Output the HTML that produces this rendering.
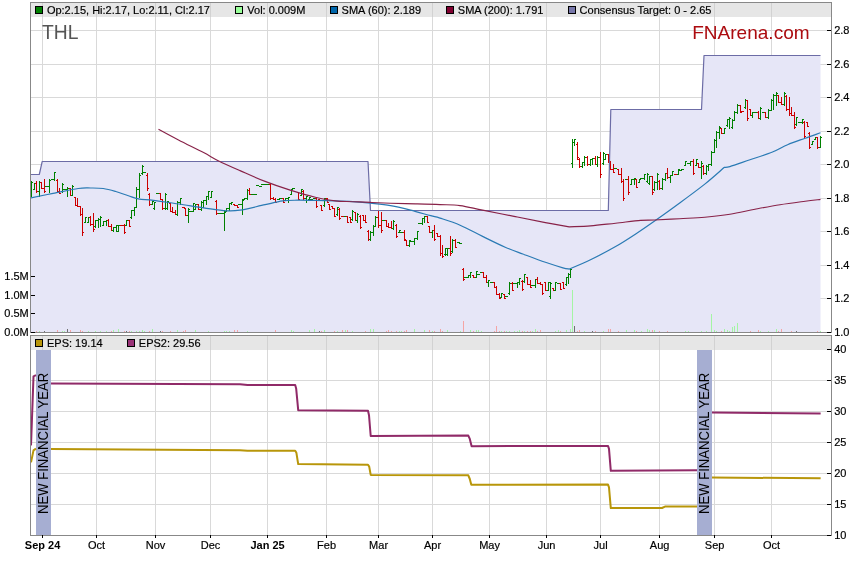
<!DOCTYPE html>
<html><head><meta charset="utf-8"><title>THL chart</title>
<style>html,body{margin:0;padding:0;background:#fff;}svg{display:block;}</style>
</head><body>
<svg width="859" height="566" viewBox="0 0 859 566" font-family="'Liberation Sans', Arial, sans-serif" font-size="11px">
<rect x="0" y="0" width="859" height="566" fill="#ffffff"/>
<g shape-rendering="crispEdges">
<rect x="42" y="3" width="1" height="329" fill="#d9d9d9"/>
<rect x="96" y="3" width="1" height="329" fill="#d9d9d9"/>
<rect x="155" y="3" width="1" height="329" fill="#d9d9d9"/>
<rect x="210" y="3" width="1" height="329" fill="#d9d9d9"/>
<rect x="267" y="3" width="1" height="329" fill="#d9d9d9"/>
<rect x="326" y="3" width="1" height="329" fill="#d9d9d9"/>
<rect x="378" y="3" width="1" height="329" fill="#d9d9d9"/>
<rect x="432" y="3" width="1" height="329" fill="#d9d9d9"/>
<rect x="489" y="3" width="1" height="329" fill="#d9d9d9"/>
<rect x="546" y="3" width="1" height="329" fill="#d9d9d9"/>
<rect x="600" y="3" width="1" height="329" fill="#d9d9d9"/>
<rect x="659" y="3" width="1" height="329" fill="#d9d9d9"/>
<rect x="714" y="3" width="1" height="329" fill="#d9d9d9"/>
<rect x="771" y="3" width="1" height="329" fill="#d9d9d9"/>
<rect x="31" y="298" width="800" height="1" fill="#d9d9d9"/>
<rect x="31" y="265" width="800" height="1" fill="#d9d9d9"/>
<rect x="31" y="231" width="800" height="1" fill="#d9d9d9"/>
<rect x="31" y="198" width="800" height="1" fill="#d9d9d9"/>
<rect x="31" y="164" width="800" height="1" fill="#d9d9d9"/>
<rect x="31" y="131" width="800" height="1" fill="#d9d9d9"/>
<rect x="31" y="97" width="800" height="1" fill="#d9d9d9"/>
<rect x="31" y="64" width="800" height="1" fill="#d9d9d9"/>
<rect x="31" y="30" width="800" height="1" fill="#d9d9d9"/>
<rect x="42" y="336" width="1" height="199" fill="#d9d9d9"/>
<rect x="96" y="336" width="1" height="199" fill="#d9d9d9"/>
<rect x="155" y="336" width="1" height="199" fill="#d9d9d9"/>
<rect x="210" y="336" width="1" height="199" fill="#d9d9d9"/>
<rect x="267" y="336" width="1" height="199" fill="#d9d9d9"/>
<rect x="326" y="336" width="1" height="199" fill="#d9d9d9"/>
<rect x="378" y="336" width="1" height="199" fill="#d9d9d9"/>
<rect x="432" y="336" width="1" height="199" fill="#d9d9d9"/>
<rect x="489" y="336" width="1" height="199" fill="#d9d9d9"/>
<rect x="546" y="336" width="1" height="199" fill="#d9d9d9"/>
<rect x="600" y="336" width="1" height="199" fill="#d9d9d9"/>
<rect x="659" y="336" width="1" height="199" fill="#d9d9d9"/>
<rect x="714" y="336" width="1" height="199" fill="#d9d9d9"/>
<rect x="771" y="336" width="1" height="199" fill="#d9d9d9"/>
<rect x="31" y="504" width="800" height="1" fill="#d9d9d9"/>
<rect x="31" y="473" width="800" height="1" fill="#d9d9d9"/>
<rect x="31" y="442" width="800" height="1" fill="#d9d9d9"/>
<rect x="31" y="411" width="800" height="1" fill="#d9d9d9"/>
<rect x="31" y="380" width="800" height="1" fill="#d9d9d9"/>
</g>
<polygon points="31,174.5 39.3,174.5 42.2,161.5 368,161.5 370.5,210.5 608.3,210.5 610.8,109.5 701.5,109.5 704,55.5 820.5,55.5 820.5,332 31,332" fill="#e6e6f7"/>
<g shape-rendering="crispEdges">
<rect x="36" y="331" width="1" height="1" fill="#f5a4a4"/>
<rect x="39" y="331" width="1" height="1" fill="#a4f5a4"/>
<rect x="44" y="331" width="1" height="1" fill="#707070"/>
<rect x="57" y="330" width="1" height="2" fill="#f5a4a4"/>
<rect x="62" y="331" width="1" height="1" fill="#a4f5a4"/>
<rect x="64" y="331" width="1" height="1" fill="#a4f5a4"/>
<rect x="67" y="329" width="1" height="3" fill="#707070"/>
<rect x="70" y="330" width="1" height="2" fill="#f5a4a4"/>
<rect x="80" y="330" width="1" height="2" fill="#f5a4a4"/>
<rect x="82" y="331" width="1" height="1" fill="#f5a4a4"/>
<rect x="88" y="331" width="1" height="1" fill="#a4f5a4"/>
<rect x="95" y="331" width="1" height="1" fill="#a4f5a4"/>
<rect x="100" y="331" width="1" height="1" fill="#a4f5a4"/>
<rect x="106" y="331" width="1" height="1" fill="#a4f5a4"/>
<rect x="111" y="331" width="1" height="1" fill="#f5a4a4"/>
<rect x="113" y="330" width="1" height="2" fill="#a4f5a4"/>
<rect x="118" y="329" width="1" height="3" fill="#a4f5a4"/>
<rect x="124" y="331" width="1" height="1" fill="#f5a4a4"/>
<rect x="126" y="331" width="1" height="1" fill="#707070"/>
<rect x="129" y="331" width="1" height="1" fill="#f5a4a4"/>
<rect x="131" y="331" width="1" height="1" fill="#a4f5a4"/>
<rect x="136" y="331" width="1" height="1" fill="#a4f5a4"/>
<rect x="139" y="331" width="1" height="1" fill="#a4f5a4"/>
<rect x="142" y="330" width="1" height="2" fill="#a4f5a4"/>
<rect x="144" y="331" width="1" height="1" fill="#a4f5a4"/>
<rect x="149" y="331" width="1" height="1" fill="#f5a4a4"/>
<rect x="152" y="329" width="1" height="3" fill="#a4f5a4"/>
<rect x="160" y="331" width="1" height="1" fill="#707070"/>
<rect x="162" y="331" width="1" height="1" fill="#f5a4a4"/>
<rect x="170" y="331" width="1" height="1" fill="#f5a4a4"/>
<rect x="177" y="330" width="1" height="2" fill="#a4f5a4"/>
<rect x="183" y="331" width="1" height="1" fill="#f5a4a4"/>
<rect x="185" y="330" width="1" height="2" fill="#f5a4a4"/>
<rect x="195" y="330" width="1" height="2" fill="#a4f5a4"/>
<rect x="208" y="331" width="1" height="1" fill="#a4f5a4"/>
<rect x="224" y="331" width="1" height="1" fill="#a4f5a4"/>
<rect x="226" y="331" width="1" height="1" fill="#a4f5a4"/>
<rect x="229" y="331" width="1" height="1" fill="#a4f5a4"/>
<rect x="234" y="330" width="1" height="2" fill="#f5a4a4"/>
<rect x="237" y="330" width="1" height="2" fill="#f5a4a4"/>
<rect x="247" y="331" width="1" height="1" fill="#a4f5a4"/>
<rect x="275" y="330" width="1" height="2" fill="#f5a4a4"/>
<rect x="291" y="330" width="1" height="2" fill="#a4f5a4"/>
<rect x="293" y="331" width="1" height="1" fill="#a4f5a4"/>
<rect x="309" y="330" width="1" height="2" fill="#a4f5a4"/>
<rect x="314" y="329" width="1" height="3" fill="#a4f5a4"/>
<rect x="319" y="331" width="1" height="1" fill="#707070"/>
<rect x="321" y="331" width="1" height="1" fill="#f5a4a4"/>
<rect x="324" y="330" width="1" height="2" fill="#a4f5a4"/>
<rect x="334" y="331" width="1" height="1" fill="#f5a4a4"/>
<rect x="337" y="331" width="1" height="1" fill="#a4f5a4"/>
<rect x="342" y="330" width="1" height="2" fill="#f5a4a4"/>
<rect x="345" y="330" width="1" height="2" fill="#a4f5a4"/>
<rect x="347" y="330" width="1" height="2" fill="#f5a4a4"/>
<rect x="352" y="331" width="1" height="1" fill="#a4f5a4"/>
<rect x="365" y="331" width="1" height="1" fill="#f5a4a4"/>
<rect x="370" y="329" width="1" height="3" fill="#a4f5a4"/>
<rect x="373" y="329" width="1" height="3" fill="#a4f5a4"/>
<rect x="386" y="331" width="1" height="1" fill="#f5a4a4"/>
<rect x="388" y="330" width="1" height="2" fill="#f5a4a4"/>
<rect x="391" y="331" width="1" height="1" fill="#f5a4a4"/>
<rect x="396" y="331" width="1" height="1" fill="#f5a4a4"/>
<rect x="399" y="331" width="1" height="1" fill="#a4f5a4"/>
<rect x="401" y="331" width="1" height="1" fill="#a4f5a4"/>
<rect x="404" y="331" width="1" height="1" fill="#f5a4a4"/>
<rect x="406" y="330" width="1" height="2" fill="#f5a4a4"/>
<rect x="414" y="329" width="1" height="3" fill="#a4f5a4"/>
<rect x="424" y="330" width="1" height="2" fill="#a4f5a4"/>
<rect x="429" y="330" width="1" height="2" fill="#f5a4a4"/>
<rect x="432" y="331" width="1" height="1" fill="#a4f5a4"/>
<rect x="434" y="331" width="1" height="1" fill="#f5a4a4"/>
<rect x="440" y="329" width="1" height="3" fill="#f5a4a4"/>
<rect x="442" y="331" width="1" height="1" fill="#f5a4a4"/>
<rect x="447" y="330" width="1" height="2" fill="#a4f5a4"/>
<rect x="460" y="331" width="1" height="1" fill="#a4f5a4"/>
<rect x="463" y="321" width="1" height="11" fill="#f5a4a4"/>
<rect x="470" y="330" width="1" height="2" fill="#a4f5a4"/>
<rect x="473" y="331" width="1" height="1" fill="#f5a4a4"/>
<rect x="476" y="330" width="1" height="2" fill="#a4f5a4"/>
<rect x="478" y="330" width="1" height="2" fill="#a4f5a4"/>
<rect x="481" y="331" width="1" height="1" fill="#a4f5a4"/>
<rect x="494" y="331" width="1" height="1" fill="#f5a4a4"/>
<rect x="496" y="326" width="1" height="6" fill="#f5a4a4"/>
<rect x="499" y="331" width="1" height="1" fill="#f5a4a4"/>
<rect x="501" y="331" width="1" height="1" fill="#a4f5a4"/>
<rect x="504" y="331" width="1" height="1" fill="#f5a4a4"/>
<rect x="506" y="331" width="1" height="1" fill="#a4f5a4"/>
<rect x="509" y="331" width="1" height="1" fill="#a4f5a4"/>
<rect x="514" y="331" width="1" height="1" fill="#a4f5a4"/>
<rect x="517" y="331" width="1" height="1" fill="#a4f5a4"/>
<rect x="519" y="330" width="1" height="2" fill="#a4f5a4"/>
<rect x="522" y="331" width="1" height="1" fill="#f5a4a4"/>
<rect x="524" y="331" width="1" height="1" fill="#a4f5a4"/>
<rect x="527" y="331" width="1" height="1" fill="#f5a4a4"/>
<rect x="530" y="331" width="1" height="1" fill="#f5a4a4"/>
<rect x="532" y="331" width="1" height="1" fill="#a4f5a4"/>
<rect x="535" y="329" width="1" height="3" fill="#a4f5a4"/>
<rect x="537" y="331" width="1" height="1" fill="#f5a4a4"/>
<rect x="540" y="330" width="1" height="2" fill="#f5a4a4"/>
<rect x="555" y="331" width="1" height="1" fill="#a4f5a4"/>
<rect x="558" y="330" width="1" height="2" fill="#a4f5a4"/>
<rect x="560" y="331" width="1" height="1" fill="#f5a4a4"/>
<rect x="566" y="330" width="1" height="2" fill="#a4f5a4"/>
<rect x="570" y="329" width="1" height="3" fill="#a4f5a4"/>
<rect x="572" y="290" width="1" height="42" fill="#a4f5a4"/>
<rect x="574" y="326" width="1" height="6" fill="#707070"/>
<rect x="577" y="331" width="1" height="1" fill="#f5a4a4"/>
<rect x="579" y="330" width="1" height="2" fill="#f5a4a4"/>
<rect x="584" y="331" width="1" height="1" fill="#a4f5a4"/>
<rect x="592" y="331" width="1" height="1" fill="#707070"/>
<rect x="595" y="331" width="1" height="1" fill="#f5a4a4"/>
<rect x="603" y="331" width="1" height="1" fill="#a4f5a4"/>
<rect x="608" y="329" width="1" height="3" fill="#f5a4a4"/>
<rect x="610" y="329" width="1" height="3" fill="#f5a4a4"/>
<rect x="618" y="331" width="1" height="1" fill="#f5a4a4"/>
<rect x="626" y="330" width="1" height="2" fill="#a4f5a4"/>
<rect x="634" y="330" width="1" height="2" fill="#a4f5a4"/>
<rect x="636" y="331" width="1" height="1" fill="#f5a4a4"/>
<rect x="641" y="331" width="1" height="1" fill="#a4f5a4"/>
<rect x="647" y="329" width="1" height="3" fill="#a4f5a4"/>
<rect x="649" y="330" width="1" height="2" fill="#a4f5a4"/>
<rect x="652" y="330" width="1" height="2" fill="#f5a4a4"/>
<rect x="654" y="330" width="1" height="2" fill="#a4f5a4"/>
<rect x="659" y="331" width="1" height="1" fill="#f5a4a4"/>
<rect x="667" y="331" width="1" height="1" fill="#f5a4a4"/>
<rect x="685" y="331" width="1" height="1" fill="#a4f5a4"/>
<rect x="688" y="331" width="1" height="1" fill="#a4f5a4"/>
<rect x="701" y="331" width="1" height="1" fill="#a4f5a4"/>
<rect x="706" y="331" width="1" height="1" fill="#a4f5a4"/>
<rect x="711" y="314" width="1" height="18" fill="#a4f5a4"/>
<rect x="714" y="330" width="1" height="2" fill="#a4f5a4"/>
<rect x="716" y="331" width="1" height="1" fill="#a4f5a4"/>
<rect x="721" y="331" width="1" height="1" fill="#f5a4a4"/>
<rect x="724" y="329" width="1" height="3" fill="#a4f5a4"/>
<rect x="727" y="330" width="1" height="2" fill="#a4f5a4"/>
<rect x="729" y="331" width="1" height="1" fill="#a4f5a4"/>
<rect x="732" y="327" width="1" height="5" fill="#a4f5a4"/>
<rect x="734" y="326" width="1" height="6" fill="#a4f5a4"/>
<rect x="737" y="323" width="1" height="9" fill="#a4f5a4"/>
<rect x="750" y="331" width="1" height="1" fill="#f5a4a4"/>
<rect x="758" y="330" width="1" height="2" fill="#f5a4a4"/>
<rect x="760" y="331" width="1" height="1" fill="#a4f5a4"/>
<rect x="768" y="331" width="1" height="1" fill="#a4f5a4"/>
<rect x="776" y="329" width="1" height="3" fill="#a4f5a4"/>
<rect x="778" y="331" width="1" height="1" fill="#f5a4a4"/>
<rect x="781" y="329" width="1" height="3" fill="#f5a4a4"/>
<rect x="791" y="331" width="1" height="1" fill="#f5a4a4"/>
<rect x="796" y="331" width="1" height="1" fill="#707070"/>
<rect x="817" y="331" width="1" height="1" fill="#f5a4a4"/>
<rect x="820" y="331" width="1" height="1" fill="#a4f5a4"/>
</g>
<g shape-rendering="crispEdges">
<rect x="31" y="181" width="1" height="16" fill="#008000"/>
<rect x="30" y="194" width="1" height="1" fill="#008000"/>
<rect x="32" y="182" width="1" height="1" fill="#008000"/>
<rect x="34" y="183" width="1" height="7" fill="#008000"/>
<rect x="33" y="189" width="1" height="1" fill="#008000"/>
<rect x="35" y="183" width="1" height="1" fill="#008000"/>
<rect x="36" y="181" width="1" height="12" fill="#cc0000"/>
<rect x="35" y="183" width="1" height="1" fill="#cc0000"/>
<rect x="37" y="191" width="1" height="1" fill="#cc0000"/>
<rect x="39" y="181" width="1" height="16" fill="#008000"/>
<rect x="38" y="191" width="1" height="1" fill="#008000"/>
<rect x="40" y="182" width="1" height="1" fill="#008000"/>
<rect x="41" y="182" width="1" height="7" fill="#cc0000"/>
<rect x="40" y="182" width="1" height="1" fill="#cc0000"/>
<rect x="42" y="188" width="1" height="1" fill="#cc0000"/>
<rect x="44" y="179" width="1" height="14" fill="#cc0000"/>
<rect x="43" y="188" width="1" height="1" fill="#cc0000"/>
<rect x="45" y="191" width="1" height="1" fill="#cc0000"/>
<rect x="45" y="186" width="3" height="1" fill="#008000"/>
<rect x="49" y="179" width="1" height="14" fill="#008000"/>
<rect x="48" y="186" width="1" height="1" fill="#008000"/>
<rect x="50" y="180" width="1" height="1" fill="#008000"/>
<rect x="51" y="179" width="3" height="1" fill="#008000"/>
<rect x="54" y="172" width="1" height="9" fill="#008000"/>
<rect x="53" y="179" width="1" height="1" fill="#008000"/>
<rect x="55" y="172" width="1" height="1" fill="#008000"/>
<rect x="57" y="179" width="1" height="14" fill="#cc0000"/>
<rect x="56" y="180" width="1" height="1" fill="#cc0000"/>
<rect x="58" y="191" width="1" height="1" fill="#cc0000"/>
<rect x="59" y="188" width="1" height="6" fill="#cc0000"/>
<rect x="58" y="191" width="1" height="1" fill="#cc0000"/>
<rect x="60" y="193" width="1" height="1" fill="#cc0000"/>
<rect x="62" y="183" width="1" height="10" fill="#008000"/>
<rect x="61" y="191" width="1" height="1" fill="#008000"/>
<rect x="63" y="184" width="1" height="1" fill="#008000"/>
<rect x="63" y="189" width="3" height="1" fill="#008000"/>
<rect x="67" y="187" width="1" height="10" fill="#008000"/>
<rect x="66" y="189" width="1" height="1" fill="#008000"/>
<rect x="68" y="188" width="1" height="1" fill="#008000"/>
<rect x="70" y="188" width="1" height="8" fill="#cc0000"/>
<rect x="69" y="188" width="1" height="1" fill="#cc0000"/>
<rect x="71" y="195" width="1" height="1" fill="#cc0000"/>
<rect x="72" y="185" width="1" height="11" fill="#008000"/>
<rect x="71" y="195" width="1" height="1" fill="#008000"/>
<rect x="73" y="186" width="1" height="1" fill="#008000"/>
<rect x="75" y="197" width="1" height="9" fill="#cc0000"/>
<rect x="74" y="197" width="1" height="1" fill="#cc0000"/>
<rect x="76" y="205" width="1" height="1" fill="#cc0000"/>
<rect x="77" y="198" width="1" height="9" fill="#cc0000"/>
<rect x="76" y="205" width="1" height="1" fill="#cc0000"/>
<rect x="78" y="206" width="1" height="1" fill="#cc0000"/>
<rect x="80" y="206" width="1" height="10" fill="#cc0000"/>
<rect x="79" y="206" width="1" height="1" fill="#cc0000"/>
<rect x="81" y="214" width="1" height="1" fill="#cc0000"/>
<rect x="82" y="208" width="1" height="28" fill="#cc0000"/>
<rect x="81" y="214" width="1" height="1" fill="#cc0000"/>
<rect x="83" y="232" width="1" height="1" fill="#cc0000"/>
<rect x="85" y="217" width="1" height="6" fill="#008000"/>
<rect x="84" y="222" width="1" height="1" fill="#008000"/>
<rect x="86" y="217" width="1" height="1" fill="#008000"/>
<rect x="88" y="217" width="1" height="6" fill="#008000"/>
<rect x="87" y="222" width="1" height="1" fill="#008000"/>
<rect x="89" y="217" width="1" height="1" fill="#008000"/>
<rect x="90" y="216" width="1" height="10" fill="#cc0000"/>
<rect x="89" y="217" width="1" height="1" fill="#cc0000"/>
<rect x="91" y="224" width="1" height="1" fill="#cc0000"/>
<rect x="93" y="213" width="1" height="19" fill="#cc0000"/>
<rect x="92" y="224" width="1" height="1" fill="#cc0000"/>
<rect x="94" y="229" width="1" height="1" fill="#cc0000"/>
<rect x="95" y="220" width="1" height="8" fill="#008000"/>
<rect x="94" y="226" width="1" height="1" fill="#008000"/>
<rect x="96" y="220" width="1" height="1" fill="#008000"/>
<rect x="98" y="218" width="1" height="10" fill="#008000"/>
<rect x="97" y="220" width="1" height="1" fill="#008000"/>
<rect x="99" y="219" width="1" height="1" fill="#008000"/>
<rect x="100" y="216" width="1" height="11" fill="#008000"/>
<rect x="99" y="219" width="1" height="1" fill="#008000"/>
<rect x="101" y="217" width="1" height="1" fill="#008000"/>
<rect x="103" y="221" width="1" height="5" fill="#008000"/>
<rect x="102" y="225" width="1" height="1" fill="#008000"/>
<rect x="104" y="221" width="1" height="1" fill="#008000"/>
<rect x="106" y="220" width="1" height="6" fill="#008000"/>
<rect x="105" y="221" width="1" height="1" fill="#008000"/>
<rect x="107" y="220" width="1" height="1" fill="#008000"/>
<rect x="108" y="219" width="1" height="8" fill="#cc0000"/>
<rect x="107" y="220" width="1" height="1" fill="#cc0000"/>
<rect x="109" y="226" width="1" height="1" fill="#cc0000"/>
<rect x="111" y="224" width="1" height="7" fill="#cc0000"/>
<rect x="110" y="226" width="1" height="1" fill="#cc0000"/>
<rect x="112" y="230" width="1" height="1" fill="#cc0000"/>
<rect x="113" y="227" width="1" height="5" fill="#008000"/>
<rect x="112" y="230" width="1" height="1" fill="#008000"/>
<rect x="114" y="227" width="1" height="1" fill="#008000"/>
<rect x="116" y="225" width="1" height="7" fill="#008000"/>
<rect x="115" y="227" width="1" height="1" fill="#008000"/>
<rect x="117" y="225" width="1" height="1" fill="#008000"/>
<rect x="118" y="225" width="1" height="7" fill="#008000"/>
<rect x="117" y="231" width="1" height="1" fill="#008000"/>
<rect x="119" y="225" width="1" height="1" fill="#008000"/>
<rect x="120" y="225" width="3" height="1" fill="#cc0000"/>
<rect x="124" y="224" width="1" height="10" fill="#cc0000"/>
<rect x="123" y="225" width="1" height="1" fill="#cc0000"/>
<rect x="125" y="232" width="1" height="1" fill="#cc0000"/>
<rect x="126" y="220" width="1" height="6" fill="#008000"/>
<rect x="125" y="225" width="1" height="1" fill="#008000"/>
<rect x="127" y="220" width="1" height="1" fill="#008000"/>
<rect x="129" y="220" width="1" height="7" fill="#cc0000"/>
<rect x="128" y="220" width="1" height="1" fill="#cc0000"/>
<rect x="130" y="226" width="1" height="1" fill="#cc0000"/>
<rect x="131" y="210" width="1" height="9" fill="#008000"/>
<rect x="130" y="217" width="1" height="1" fill="#008000"/>
<rect x="132" y="210" width="1" height="1" fill="#008000"/>
<rect x="134" y="207" width="1" height="9" fill="#008000"/>
<rect x="133" y="210" width="1" height="1" fill="#008000"/>
<rect x="135" y="207" width="1" height="1" fill="#008000"/>
<rect x="136" y="187" width="1" height="21" fill="#008000"/>
<rect x="135" y="207" width="1" height="1" fill="#008000"/>
<rect x="137" y="189" width="1" height="1" fill="#008000"/>
<rect x="139" y="173" width="1" height="25" fill="#008000"/>
<rect x="138" y="189" width="1" height="1" fill="#008000"/>
<rect x="140" y="175" width="1" height="1" fill="#008000"/>
<rect x="142" y="165" width="1" height="10" fill="#008000"/>
<rect x="141" y="173" width="1" height="1" fill="#008000"/>
<rect x="143" y="166" width="1" height="1" fill="#008000"/>
<rect x="143" y="172" width="3" height="1" fill="#008000"/>
<rect x="147" y="173" width="1" height="18" fill="#cc0000"/>
<rect x="146" y="175" width="1" height="1" fill="#cc0000"/>
<rect x="148" y="188" width="1" height="1" fill="#cc0000"/>
<rect x="149" y="193" width="1" height="13" fill="#cc0000"/>
<rect x="148" y="194" width="1" height="1" fill="#cc0000"/>
<rect x="150" y="204" width="1" height="1" fill="#cc0000"/>
<rect x="152" y="201" width="1" height="4" fill="#008000"/>
<rect x="151" y="204" width="1" height="1" fill="#008000"/>
<rect x="153" y="201" width="1" height="1" fill="#008000"/>
<rect x="154" y="202" width="1" height="8" fill="#008000"/>
<rect x="153" y="208" width="1" height="1" fill="#008000"/>
<rect x="155" y="202" width="1" height="1" fill="#008000"/>
<rect x="156" y="193" width="3" height="1" fill="#008000"/>
<rect x="160" y="193" width="1" height="7" fill="#cc0000"/>
<rect x="159" y="193" width="1" height="1" fill="#cc0000"/>
<rect x="161" y="199" width="1" height="1" fill="#cc0000"/>
<rect x="162" y="199" width="1" height="11" fill="#cc0000"/>
<rect x="161" y="199" width="1" height="1" fill="#cc0000"/>
<rect x="163" y="208" width="1" height="1" fill="#cc0000"/>
<rect x="165" y="193" width="1" height="17" fill="#008000"/>
<rect x="164" y="208" width="1" height="1" fill="#008000"/>
<rect x="166" y="194" width="1" height="1" fill="#008000"/>
<rect x="167" y="201" width="1" height="9" fill="#008000"/>
<rect x="166" y="208" width="1" height="1" fill="#008000"/>
<rect x="168" y="201" width="1" height="1" fill="#008000"/>
<rect x="170" y="203" width="1" height="9" fill="#cc0000"/>
<rect x="169" y="203" width="1" height="1" fill="#cc0000"/>
<rect x="171" y="211" width="1" height="1" fill="#cc0000"/>
<rect x="172" y="207" width="1" height="6" fill="#cc0000"/>
<rect x="171" y="211" width="1" height="1" fill="#cc0000"/>
<rect x="173" y="212" width="1" height="1" fill="#cc0000"/>
<rect x="175" y="210" width="1" height="5" fill="#cc0000"/>
<rect x="174" y="212" width="1" height="1" fill="#cc0000"/>
<rect x="176" y="214" width="1" height="1" fill="#cc0000"/>
<rect x="177" y="201" width="1" height="15" fill="#008000"/>
<rect x="176" y="214" width="1" height="1" fill="#008000"/>
<rect x="178" y="202" width="1" height="1" fill="#008000"/>
<rect x="180" y="198" width="1" height="7" fill="#008000"/>
<rect x="179" y="202" width="1" height="1" fill="#008000"/>
<rect x="181" y="198" width="1" height="1" fill="#008000"/>
<rect x="182" y="207" width="3" height="1" fill="#cc0000"/>
<rect x="185" y="208" width="1" height="8" fill="#cc0000"/>
<rect x="184" y="208" width="1" height="1" fill="#cc0000"/>
<rect x="186" y="215" width="1" height="1" fill="#cc0000"/>
<rect x="188" y="208" width="1" height="15" fill="#008000"/>
<rect x="187" y="215" width="1" height="1" fill="#008000"/>
<rect x="189" y="209" width="1" height="1" fill="#008000"/>
<rect x="189" y="211" width="3" height="1" fill="#008000"/>
<rect x="193" y="203" width="1" height="9" fill="#008000"/>
<rect x="192" y="211" width="1" height="1" fill="#008000"/>
<rect x="194" y="203" width="1" height="1" fill="#008000"/>
<rect x="195" y="204" width="1" height="6" fill="#008000"/>
<rect x="194" y="209" width="1" height="1" fill="#008000"/>
<rect x="196" y="204" width="1" height="1" fill="#008000"/>
<rect x="198" y="204" width="1" height="6" fill="#cc0000"/>
<rect x="197" y="204" width="1" height="1" fill="#cc0000"/>
<rect x="199" y="209" width="1" height="1" fill="#cc0000"/>
<rect x="201" y="201" width="1" height="10" fill="#008000"/>
<rect x="200" y="209" width="1" height="1" fill="#008000"/>
<rect x="202" y="202" width="1" height="1" fill="#008000"/>
<rect x="203" y="200" width="1" height="8" fill="#008000"/>
<rect x="202" y="202" width="1" height="1" fill="#008000"/>
<rect x="204" y="200" width="1" height="1" fill="#008000"/>
<rect x="206" y="196" width="1" height="9" fill="#008000"/>
<rect x="205" y="200" width="1" height="1" fill="#008000"/>
<rect x="207" y="196" width="1" height="1" fill="#008000"/>
<rect x="208" y="191" width="1" height="9" fill="#008000"/>
<rect x="207" y="196" width="1" height="1" fill="#008000"/>
<rect x="209" y="191" width="1" height="1" fill="#008000"/>
<rect x="211" y="191" width="1" height="7" fill="#008000"/>
<rect x="210" y="197" width="1" height="1" fill="#008000"/>
<rect x="212" y="191" width="1" height="1" fill="#008000"/>
<rect x="216" y="200" width="1" height="15" fill="#cc0000"/>
<rect x="215" y="201" width="1" height="1" fill="#cc0000"/>
<rect x="217" y="213" width="1" height="1" fill="#cc0000"/>
<rect x="218" y="213" width="3" height="1" fill="#008000"/>
<rect x="220" y="213" width="3" height="1" fill="#008000"/>
<rect x="224" y="210" width="1" height="21" fill="#008000"/>
<rect x="223" y="213" width="1" height="1" fill="#008000"/>
<rect x="225" y="212" width="1" height="1" fill="#008000"/>
<rect x="226" y="208" width="1" height="4" fill="#008000"/>
<rect x="225" y="211" width="1" height="1" fill="#008000"/>
<rect x="227" y="208" width="1" height="1" fill="#008000"/>
<rect x="229" y="203" width="1" height="8" fill="#008000"/>
<rect x="228" y="208" width="1" height="1" fill="#008000"/>
<rect x="230" y="203" width="1" height="1" fill="#008000"/>
<rect x="231" y="202" width="1" height="3" fill="#008000"/>
<rect x="230" y="203" width="1" height="1" fill="#008000"/>
<rect x="232" y="202" width="1" height="1" fill="#008000"/>
<rect x="234" y="204" width="1" height="2" fill="#cc0000"/>
<rect x="233" y="204" width="1" height="1" fill="#cc0000"/>
<rect x="235" y="205" width="1" height="1" fill="#cc0000"/>
<rect x="237" y="205" width="1" height="3" fill="#cc0000"/>
<rect x="236" y="205" width="1" height="1" fill="#cc0000"/>
<rect x="238" y="207" width="1" height="1" fill="#cc0000"/>
<rect x="238" y="204" width="3" height="1" fill="#008000"/>
<rect x="242" y="199" width="1" height="16" fill="#008000"/>
<rect x="241" y="204" width="1" height="1" fill="#008000"/>
<rect x="243" y="200" width="1" height="1" fill="#008000"/>
<rect x="244" y="198" width="1" height="2" fill="#008000"/>
<rect x="243" y="199" width="1" height="1" fill="#008000"/>
<rect x="245" y="198" width="1" height="1" fill="#008000"/>
<rect x="247" y="189" width="1" height="11" fill="#008000"/>
<rect x="246" y="198" width="1" height="1" fill="#008000"/>
<rect x="248" y="190" width="1" height="1" fill="#008000"/>
<rect x="249" y="188" width="1" height="7" fill="#cc0000"/>
<rect x="248" y="190" width="1" height="1" fill="#cc0000"/>
<rect x="250" y="194" width="1" height="1" fill="#cc0000"/>
<rect x="251" y="194" width="3" height="1" fill="#008000"/>
<rect x="254" y="194" width="3" height="1" fill="#008000"/>
<rect x="256" y="185" width="3" height="1" fill="#008000"/>
<rect x="259" y="186" width="3" height="1" fill="#008000"/>
<rect x="261" y="184" width="3" height="1" fill="#008000"/>
<rect x="264" y="184" width="3" height="1" fill="#008000"/>
<rect x="266" y="184" width="3" height="1" fill="#008000"/>
<rect x="270" y="184" width="1" height="16" fill="#cc0000"/>
<rect x="269" y="184" width="1" height="1" fill="#cc0000"/>
<rect x="271" y="198" width="1" height="1" fill="#cc0000"/>
<rect x="273" y="197" width="1" height="3" fill="#cc0000"/>
<rect x="272" y="198" width="1" height="1" fill="#cc0000"/>
<rect x="274" y="199" width="1" height="1" fill="#cc0000"/>
<rect x="275" y="198" width="1" height="5" fill="#cc0000"/>
<rect x="274" y="199" width="1" height="1" fill="#cc0000"/>
<rect x="276" y="202" width="1" height="1" fill="#cc0000"/>
<rect x="277" y="199" width="3" height="1" fill="#008000"/>
<rect x="279" y="198" width="3" height="1" fill="#008000"/>
<rect x="283" y="198" width="1" height="5" fill="#cc0000"/>
<rect x="282" y="198" width="1" height="1" fill="#cc0000"/>
<rect x="284" y="202" width="1" height="1" fill="#cc0000"/>
<rect x="285" y="198" width="1" height="3" fill="#008000"/>
<rect x="284" y="200" width="1" height="1" fill="#008000"/>
<rect x="286" y="198" width="1" height="1" fill="#008000"/>
<rect x="288" y="197" width="1" height="6" fill="#008000"/>
<rect x="287" y="198" width="1" height="1" fill="#008000"/>
<rect x="289" y="197" width="1" height="1" fill="#008000"/>
<rect x="291" y="189" width="1" height="6" fill="#008000"/>
<rect x="290" y="194" width="1" height="1" fill="#008000"/>
<rect x="292" y="189" width="1" height="1" fill="#008000"/>
<rect x="292" y="188" width="3" height="1" fill="#008000"/>
<rect x="298" y="192" width="1" height="8" fill="#cc0000"/>
<rect x="297" y="192" width="1" height="1" fill="#cc0000"/>
<rect x="299" y="199" width="1" height="1" fill="#cc0000"/>
<rect x="301" y="189" width="1" height="7" fill="#008000"/>
<rect x="300" y="195" width="1" height="1" fill="#008000"/>
<rect x="302" y="189" width="1" height="1" fill="#008000"/>
<rect x="303" y="190" width="1" height="10" fill="#cc0000"/>
<rect x="302" y="191" width="1" height="1" fill="#cc0000"/>
<rect x="304" y="198" width="1" height="1" fill="#cc0000"/>
<rect x="306" y="196" width="1" height="7" fill="#008000"/>
<rect x="305" y="198" width="1" height="1" fill="#008000"/>
<rect x="307" y="196" width="1" height="1" fill="#008000"/>
<rect x="309" y="197" width="1" height="3" fill="#008000"/>
<rect x="308" y="199" width="1" height="1" fill="#008000"/>
<rect x="310" y="197" width="1" height="1" fill="#008000"/>
<rect x="310" y="199" width="3" height="1" fill="#008000"/>
<rect x="313" y="198" width="3" height="1" fill="#008000"/>
<rect x="316" y="198" width="1" height="10" fill="#cc0000"/>
<rect x="315" y="198" width="1" height="1" fill="#cc0000"/>
<rect x="317" y="206" width="1" height="1" fill="#cc0000"/>
<rect x="319" y="199" width="1" height="2" fill="#cc0000"/>
<rect x="318" y="199" width="1" height="1" fill="#cc0000"/>
<rect x="320" y="200" width="1" height="1" fill="#cc0000"/>
<rect x="321" y="205" width="1" height="6" fill="#cc0000"/>
<rect x="320" y="205" width="1" height="1" fill="#cc0000"/>
<rect x="322" y="210" width="1" height="1" fill="#cc0000"/>
<rect x="324" y="198" width="1" height="9" fill="#008000"/>
<rect x="323" y="205" width="1" height="1" fill="#008000"/>
<rect x="325" y="198" width="1" height="1" fill="#008000"/>
<rect x="327" y="198" width="1" height="5" fill="#cc0000"/>
<rect x="326" y="198" width="1" height="1" fill="#cc0000"/>
<rect x="328" y="202" width="1" height="1" fill="#cc0000"/>
<rect x="329" y="204" width="1" height="6" fill="#cc0000"/>
<rect x="328" y="204" width="1" height="1" fill="#cc0000"/>
<rect x="330" y="209" width="1" height="1" fill="#cc0000"/>
<rect x="332" y="206" width="1" height="3" fill="#cc0000"/>
<rect x="331" y="206" width="1" height="1" fill="#cc0000"/>
<rect x="333" y="208" width="1" height="1" fill="#cc0000"/>
<rect x="334" y="208" width="1" height="9" fill="#cc0000"/>
<rect x="333" y="208" width="1" height="1" fill="#cc0000"/>
<rect x="335" y="216" width="1" height="1" fill="#cc0000"/>
<rect x="337" y="207" width="1" height="9" fill="#008000"/>
<rect x="336" y="214" width="1" height="1" fill="#008000"/>
<rect x="338" y="207" width="1" height="1" fill="#008000"/>
<rect x="339" y="208" width="1" height="12" fill="#cc0000"/>
<rect x="338" y="209" width="1" height="1" fill="#cc0000"/>
<rect x="340" y="218" width="1" height="1" fill="#cc0000"/>
<rect x="341" y="216" width="3" height="1" fill="#cc0000"/>
<rect x="344" y="216" width="3" height="1" fill="#008000"/>
<rect x="347" y="216" width="1" height="7" fill="#cc0000"/>
<rect x="346" y="216" width="1" height="1" fill="#cc0000"/>
<rect x="348" y="222" width="1" height="1" fill="#cc0000"/>
<rect x="350" y="217" width="1" height="6" fill="#cc0000"/>
<rect x="349" y="217" width="1" height="1" fill="#cc0000"/>
<rect x="351" y="222" width="1" height="1" fill="#cc0000"/>
<rect x="352" y="210" width="1" height="11" fill="#008000"/>
<rect x="351" y="219" width="1" height="1" fill="#008000"/>
<rect x="353" y="211" width="1" height="1" fill="#008000"/>
<rect x="355" y="212" width="1" height="9" fill="#cc0000"/>
<rect x="354" y="212" width="1" height="1" fill="#cc0000"/>
<rect x="356" y="220" width="1" height="1" fill="#cc0000"/>
<rect x="357" y="213" width="1" height="10" fill="#008000"/>
<rect x="356" y="220" width="1" height="1" fill="#008000"/>
<rect x="358" y="214" width="1" height="1" fill="#008000"/>
<rect x="360" y="215" width="1" height="14" fill="#cc0000"/>
<rect x="359" y="216" width="1" height="1" fill="#cc0000"/>
<rect x="361" y="227" width="1" height="1" fill="#cc0000"/>
<rect x="363" y="215" width="1" height="6" fill="#cc0000"/>
<rect x="362" y="215" width="1" height="1" fill="#cc0000"/>
<rect x="364" y="220" width="1" height="1" fill="#cc0000"/>
<rect x="365" y="215" width="1" height="8" fill="#cc0000"/>
<rect x="364" y="220" width="1" height="1" fill="#cc0000"/>
<rect x="366" y="222" width="1" height="1" fill="#cc0000"/>
<rect x="368" y="230" width="1" height="11" fill="#cc0000"/>
<rect x="367" y="231" width="1" height="1" fill="#cc0000"/>
<rect x="369" y="239" width="1" height="1" fill="#cc0000"/>
<rect x="370" y="231" width="1" height="10" fill="#008000"/>
<rect x="369" y="239" width="1" height="1" fill="#008000"/>
<rect x="371" y="232" width="1" height="1" fill="#008000"/>
<rect x="373" y="225" width="1" height="11" fill="#008000"/>
<rect x="372" y="232" width="1" height="1" fill="#008000"/>
<rect x="374" y="226" width="1" height="1" fill="#008000"/>
<rect x="375" y="216" width="1" height="11" fill="#008000"/>
<rect x="374" y="226" width="1" height="1" fill="#008000"/>
<rect x="376" y="217" width="1" height="1" fill="#008000"/>
<rect x="378" y="210" width="1" height="18" fill="#cc0000"/>
<rect x="377" y="217" width="1" height="1" fill="#cc0000"/>
<rect x="379" y="225" width="1" height="1" fill="#cc0000"/>
<rect x="381" y="212" width="1" height="21" fill="#cc0000"/>
<rect x="380" y="225" width="1" height="1" fill="#cc0000"/>
<rect x="382" y="230" width="1" height="1" fill="#cc0000"/>
<rect x="382" y="220" width="3" height="1" fill="#008000"/>
<rect x="386" y="220" width="1" height="7" fill="#cc0000"/>
<rect x="385" y="220" width="1" height="1" fill="#cc0000"/>
<rect x="387" y="226" width="1" height="1" fill="#cc0000"/>
<rect x="388" y="223" width="1" height="5" fill="#cc0000"/>
<rect x="387" y="226" width="1" height="1" fill="#cc0000"/>
<rect x="389" y="227" width="1" height="1" fill="#cc0000"/>
<rect x="391" y="221" width="1" height="8" fill="#cc0000"/>
<rect x="390" y="227" width="1" height="1" fill="#cc0000"/>
<rect x="392" y="228" width="1" height="1" fill="#cc0000"/>
<rect x="393" y="220" width="1" height="10" fill="#008000"/>
<rect x="392" y="228" width="1" height="1" fill="#008000"/>
<rect x="394" y="221" width="1" height="1" fill="#008000"/>
<rect x="396" y="224" width="1" height="14" fill="#cc0000"/>
<rect x="395" y="225" width="1" height="1" fill="#cc0000"/>
<rect x="397" y="236" width="1" height="1" fill="#cc0000"/>
<rect x="399" y="230" width="1" height="3" fill="#008000"/>
<rect x="398" y="232" width="1" height="1" fill="#008000"/>
<rect x="400" y="230" width="1" height="1" fill="#008000"/>
<rect x="400" y="232" width="3" height="1" fill="#008000"/>
<rect x="404" y="230" width="1" height="11" fill="#cc0000"/>
<rect x="403" y="232" width="1" height="1" fill="#cc0000"/>
<rect x="405" y="239" width="1" height="1" fill="#cc0000"/>
<rect x="406" y="240" width="1" height="6" fill="#cc0000"/>
<rect x="405" y="240" width="1" height="1" fill="#cc0000"/>
<rect x="407" y="245" width="1" height="1" fill="#cc0000"/>
<rect x="409" y="240" width="1" height="7" fill="#008000"/>
<rect x="408" y="245" width="1" height="1" fill="#008000"/>
<rect x="410" y="240" width="1" height="1" fill="#008000"/>
<rect x="410" y="241" width="3" height="1" fill="#008000"/>
<rect x="414" y="238" width="1" height="7" fill="#008000"/>
<rect x="413" y="241" width="1" height="1" fill="#008000"/>
<rect x="415" y="238" width="1" height="1" fill="#008000"/>
<rect x="417" y="231" width="1" height="9" fill="#008000"/>
<rect x="416" y="238" width="1" height="1" fill="#008000"/>
<rect x="418" y="231" width="1" height="1" fill="#008000"/>
<rect x="418" y="223" width="3" height="1" fill="#008000"/>
<rect x="422" y="218" width="1" height="7" fill="#008000"/>
<rect x="421" y="223" width="1" height="1" fill="#008000"/>
<rect x="423" y="218" width="1" height="1" fill="#008000"/>
<rect x="424" y="216" width="1" height="7" fill="#008000"/>
<rect x="423" y="218" width="1" height="1" fill="#008000"/>
<rect x="425" y="216" width="1" height="1" fill="#008000"/>
<rect x="427" y="216" width="1" height="7" fill="#cc0000"/>
<rect x="426" y="216" width="1" height="1" fill="#cc0000"/>
<rect x="428" y="222" width="1" height="1" fill="#cc0000"/>
<rect x="429" y="226" width="1" height="7" fill="#cc0000"/>
<rect x="428" y="226" width="1" height="1" fill="#cc0000"/>
<rect x="430" y="232" width="1" height="1" fill="#cc0000"/>
<rect x="432" y="230" width="1" height="8" fill="#008000"/>
<rect x="431" y="232" width="1" height="1" fill="#008000"/>
<rect x="433" y="230" width="1" height="1" fill="#008000"/>
<rect x="434" y="225" width="1" height="16" fill="#cc0000"/>
<rect x="433" y="230" width="1" height="1" fill="#cc0000"/>
<rect x="435" y="239" width="1" height="1" fill="#cc0000"/>
<rect x="437" y="233" width="1" height="4" fill="#cc0000"/>
<rect x="436" y="233" width="1" height="1" fill="#cc0000"/>
<rect x="438" y="236" width="1" height="1" fill="#cc0000"/>
<rect x="440" y="235" width="1" height="21" fill="#cc0000"/>
<rect x="439" y="236" width="1" height="1" fill="#cc0000"/>
<rect x="441" y="253" width="1" height="1" fill="#cc0000"/>
<rect x="442" y="245" width="1" height="13" fill="#cc0000"/>
<rect x="441" y="253" width="1" height="1" fill="#cc0000"/>
<rect x="443" y="256" width="1" height="1" fill="#cc0000"/>
<rect x="445" y="248" width="1" height="8" fill="#008000"/>
<rect x="444" y="254" width="1" height="1" fill="#008000"/>
<rect x="446" y="248" width="1" height="1" fill="#008000"/>
<rect x="447" y="248" width="1" height="8" fill="#008000"/>
<rect x="446" y="254" width="1" height="1" fill="#008000"/>
<rect x="448" y="248" width="1" height="1" fill="#008000"/>
<rect x="450" y="236" width="1" height="20" fill="#cc0000"/>
<rect x="449" y="248" width="1" height="1" fill="#cc0000"/>
<rect x="451" y="253" width="1" height="1" fill="#cc0000"/>
<rect x="452" y="239" width="1" height="14" fill="#008000"/>
<rect x="451" y="251" width="1" height="1" fill="#008000"/>
<rect x="453" y="240" width="1" height="1" fill="#008000"/>
<rect x="455" y="239" width="1" height="9" fill="#cc0000"/>
<rect x="454" y="240" width="1" height="1" fill="#cc0000"/>
<rect x="456" y="247" width="1" height="1" fill="#cc0000"/>
<rect x="457" y="242" width="3" height="1" fill="#008000"/>
<rect x="459" y="243" width="3" height="1" fill="#008000"/>
<rect x="463" y="268" width="1" height="13" fill="#cc0000"/>
<rect x="462" y="269" width="1" height="1" fill="#cc0000"/>
<rect x="464" y="279" width="1" height="1" fill="#cc0000"/>
<rect x="464" y="277" width="3" height="1" fill="#008000"/>
<rect x="468" y="275" width="1" height="3" fill="#008000"/>
<rect x="467" y="277" width="1" height="1" fill="#008000"/>
<rect x="469" y="275" width="1" height="1" fill="#008000"/>
<rect x="470" y="272" width="1" height="6" fill="#008000"/>
<rect x="469" y="275" width="1" height="1" fill="#008000"/>
<rect x="471" y="272" width="1" height="1" fill="#008000"/>
<rect x="473" y="275" width="1" height="3" fill="#cc0000"/>
<rect x="472" y="275" width="1" height="1" fill="#cc0000"/>
<rect x="474" y="277" width="1" height="1" fill="#cc0000"/>
<rect x="476" y="271" width="1" height="7" fill="#008000"/>
<rect x="475" y="277" width="1" height="1" fill="#008000"/>
<rect x="477" y="271" width="1" height="1" fill="#008000"/>
<rect x="477" y="274" width="3" height="1" fill="#008000"/>
<rect x="480" y="272" width="3" height="1" fill="#008000"/>
<rect x="483" y="272" width="1" height="6" fill="#cc0000"/>
<rect x="482" y="272" width="1" height="1" fill="#cc0000"/>
<rect x="484" y="277" width="1" height="1" fill="#cc0000"/>
<rect x="486" y="275" width="1" height="8" fill="#cc0000"/>
<rect x="485" y="277" width="1" height="1" fill="#cc0000"/>
<rect x="487" y="282" width="1" height="1" fill="#cc0000"/>
<rect x="488" y="280" width="1" height="7" fill="#008000"/>
<rect x="487" y="282" width="1" height="1" fill="#008000"/>
<rect x="489" y="280" width="1" height="1" fill="#008000"/>
<rect x="490" y="282" width="3" height="1" fill="#008000"/>
<rect x="494" y="282" width="1" height="6" fill="#cc0000"/>
<rect x="493" y="282" width="1" height="1" fill="#cc0000"/>
<rect x="495" y="287" width="1" height="1" fill="#cc0000"/>
<rect x="496" y="286" width="1" height="9" fill="#cc0000"/>
<rect x="495" y="287" width="1" height="1" fill="#cc0000"/>
<rect x="497" y="294" width="1" height="1" fill="#cc0000"/>
<rect x="499" y="293" width="1" height="6" fill="#cc0000"/>
<rect x="498" y="294" width="1" height="1" fill="#cc0000"/>
<rect x="500" y="298" width="1" height="1" fill="#cc0000"/>
<rect x="501" y="293" width="1" height="5" fill="#008000"/>
<rect x="500" y="297" width="1" height="1" fill="#008000"/>
<rect x="502" y="293" width="1" height="1" fill="#008000"/>
<rect x="504" y="294" width="1" height="5" fill="#cc0000"/>
<rect x="503" y="294" width="1" height="1" fill="#cc0000"/>
<rect x="505" y="298" width="1" height="1" fill="#cc0000"/>
<rect x="505" y="296" width="3" height="1" fill="#008000"/>
<rect x="509" y="282" width="1" height="13" fill="#008000"/>
<rect x="508" y="293" width="1" height="1" fill="#008000"/>
<rect x="510" y="283" width="1" height="1" fill="#008000"/>
<rect x="512" y="282" width="1" height="9" fill="#cc0000"/>
<rect x="511" y="283" width="1" height="1" fill="#cc0000"/>
<rect x="513" y="290" width="1" height="1" fill="#cc0000"/>
<rect x="513" y="283" width="3" height="1" fill="#008000"/>
<rect x="517" y="282" width="1" height="6" fill="#008000"/>
<rect x="516" y="283" width="1" height="1" fill="#008000"/>
<rect x="518" y="282" width="1" height="1" fill="#008000"/>
<rect x="519" y="278" width="1" height="7" fill="#008000"/>
<rect x="518" y="282" width="1" height="1" fill="#008000"/>
<rect x="520" y="278" width="1" height="1" fill="#008000"/>
<rect x="522" y="280" width="1" height="11" fill="#cc0000"/>
<rect x="521" y="281" width="1" height="1" fill="#cc0000"/>
<rect x="523" y="289" width="1" height="1" fill="#cc0000"/>
<rect x="524" y="274" width="1" height="9" fill="#008000"/>
<rect x="523" y="281" width="1" height="1" fill="#008000"/>
<rect x="525" y="274" width="1" height="1" fill="#008000"/>
<rect x="527" y="277" width="1" height="8" fill="#cc0000"/>
<rect x="526" y="277" width="1" height="1" fill="#cc0000"/>
<rect x="528" y="284" width="1" height="1" fill="#cc0000"/>
<rect x="530" y="280" width="1" height="8" fill="#cc0000"/>
<rect x="529" y="284" width="1" height="1" fill="#cc0000"/>
<rect x="531" y="287" width="1" height="1" fill="#cc0000"/>
<rect x="531" y="285" width="3" height="1" fill="#008000"/>
<rect x="535" y="279" width="1" height="9" fill="#008000"/>
<rect x="534" y="285" width="1" height="1" fill="#008000"/>
<rect x="536" y="279" width="1" height="1" fill="#008000"/>
<rect x="537" y="277" width="1" height="7" fill="#cc0000"/>
<rect x="536" y="279" width="1" height="1" fill="#cc0000"/>
<rect x="538" y="283" width="1" height="1" fill="#cc0000"/>
<rect x="540" y="282" width="1" height="3" fill="#cc0000"/>
<rect x="539" y="283" width="1" height="1" fill="#cc0000"/>
<rect x="541" y="284" width="1" height="1" fill="#cc0000"/>
<rect x="542" y="284" width="1" height="11" fill="#cc0000"/>
<rect x="541" y="284" width="1" height="1" fill="#cc0000"/>
<rect x="543" y="293" width="1" height="1" fill="#cc0000"/>
<rect x="545" y="282" width="1" height="9" fill="#cc0000"/>
<rect x="544" y="282" width="1" height="1" fill="#cc0000"/>
<rect x="546" y="290" width="1" height="1" fill="#cc0000"/>
<rect x="548" y="282" width="1" height="9" fill="#008000"/>
<rect x="547" y="290" width="1" height="1" fill="#008000"/>
<rect x="549" y="282" width="1" height="1" fill="#008000"/>
<rect x="550" y="282" width="1" height="17" fill="#008000"/>
<rect x="549" y="296" width="1" height="1" fill="#008000"/>
<rect x="551" y="283" width="1" height="1" fill="#008000"/>
<rect x="553" y="288" width="1" height="3" fill="#cc0000"/>
<rect x="552" y="288" width="1" height="1" fill="#cc0000"/>
<rect x="554" y="290" width="1" height="1" fill="#cc0000"/>
<rect x="555" y="282" width="1" height="9" fill="#008000"/>
<rect x="554" y="290" width="1" height="1" fill="#008000"/>
<rect x="556" y="282" width="1" height="1" fill="#008000"/>
<rect x="557" y="283" width="3" height="1" fill="#008000"/>
<rect x="560" y="283" width="1" height="7" fill="#cc0000"/>
<rect x="559" y="283" width="1" height="1" fill="#cc0000"/>
<rect x="561" y="289" width="1" height="1" fill="#cc0000"/>
<rect x="563" y="282" width="1" height="7" fill="#cc0000"/>
<rect x="562" y="282" width="1" height="1" fill="#cc0000"/>
<rect x="564" y="288" width="1" height="1" fill="#cc0000"/>
<rect x="566" y="277" width="1" height="9" fill="#008000"/>
<rect x="565" y="284" width="1" height="1" fill="#008000"/>
<rect x="567" y="277" width="1" height="1" fill="#008000"/>
<rect x="568" y="273" width="1" height="11" fill="#008000"/>
<rect x="567" y="277" width="1" height="1" fill="#008000"/>
<rect x="569" y="274" width="1" height="1" fill="#008000"/>
<rect x="570" y="269" width="1" height="9" fill="#008000"/>
<rect x="569" y="274" width="1" height="1" fill="#008000"/>
<rect x="571" y="269" width="1" height="1" fill="#008000"/>
<rect x="572" y="139" width="1" height="29" fill="#008000"/>
<rect x="571" y="163" width="1" height="1" fill="#008000"/>
<rect x="573" y="142" width="1" height="1" fill="#008000"/>
<rect x="574" y="139" width="1" height="7" fill="#008000"/>
<rect x="573" y="142" width="1" height="1" fill="#008000"/>
<rect x="575" y="139" width="1" height="1" fill="#008000"/>
<rect x="577" y="142" width="1" height="18" fill="#cc0000"/>
<rect x="576" y="144" width="1" height="1" fill="#cc0000"/>
<rect x="578" y="157" width="1" height="1" fill="#cc0000"/>
<rect x="579" y="158" width="1" height="10" fill="#cc0000"/>
<rect x="578" y="159" width="1" height="1" fill="#cc0000"/>
<rect x="580" y="166" width="1" height="1" fill="#cc0000"/>
<rect x="582" y="162" width="1" height="6" fill="#008000"/>
<rect x="581" y="166" width="1" height="1" fill="#008000"/>
<rect x="583" y="162" width="1" height="1" fill="#008000"/>
<rect x="584" y="156" width="1" height="10" fill="#008000"/>
<rect x="583" y="162" width="1" height="1" fill="#008000"/>
<rect x="585" y="157" width="1" height="1" fill="#008000"/>
<rect x="587" y="156" width="1" height="10" fill="#cc0000"/>
<rect x="586" y="157" width="1" height="1" fill="#cc0000"/>
<rect x="588" y="164" width="1" height="1" fill="#cc0000"/>
<rect x="590" y="159" width="1" height="7" fill="#008000"/>
<rect x="589" y="164" width="1" height="1" fill="#008000"/>
<rect x="591" y="159" width="1" height="1" fill="#008000"/>
<rect x="592" y="158" width="1" height="7" fill="#008000"/>
<rect x="591" y="159" width="1" height="1" fill="#008000"/>
<rect x="593" y="158" width="1" height="1" fill="#008000"/>
<rect x="595" y="156" width="1" height="9" fill="#cc0000"/>
<rect x="594" y="158" width="1" height="1" fill="#cc0000"/>
<rect x="596" y="164" width="1" height="1" fill="#cc0000"/>
<rect x="597" y="156" width="1" height="11" fill="#008000"/>
<rect x="596" y="164" width="1" height="1" fill="#008000"/>
<rect x="598" y="157" width="1" height="1" fill="#008000"/>
<rect x="600" y="152" width="1" height="26" fill="#cc0000"/>
<rect x="599" y="157" width="1" height="1" fill="#cc0000"/>
<rect x="601" y="174" width="1" height="1" fill="#cc0000"/>
<rect x="603" y="152" width="1" height="13" fill="#008000"/>
<rect x="602" y="163" width="1" height="1" fill="#008000"/>
<rect x="604" y="153" width="1" height="1" fill="#008000"/>
<rect x="605" y="154" width="1" height="6" fill="#008000"/>
<rect x="604" y="159" width="1" height="1" fill="#008000"/>
<rect x="606" y="154" width="1" height="1" fill="#008000"/>
<rect x="608" y="154" width="1" height="9" fill="#cc0000"/>
<rect x="607" y="154" width="1" height="1" fill="#cc0000"/>
<rect x="609" y="162" width="1" height="1" fill="#cc0000"/>
<rect x="610" y="161" width="1" height="9" fill="#cc0000"/>
<rect x="609" y="162" width="1" height="1" fill="#cc0000"/>
<rect x="611" y="169" width="1" height="1" fill="#cc0000"/>
<rect x="613" y="164" width="1" height="9" fill="#cc0000"/>
<rect x="612" y="169" width="1" height="1" fill="#cc0000"/>
<rect x="614" y="172" width="1" height="1" fill="#cc0000"/>
<rect x="614" y="168" width="3" height="1" fill="#008000"/>
<rect x="618" y="169" width="1" height="6" fill="#cc0000"/>
<rect x="617" y="169" width="1" height="1" fill="#cc0000"/>
<rect x="619" y="174" width="1" height="1" fill="#cc0000"/>
<rect x="621" y="168" width="1" height="15" fill="#cc0000"/>
<rect x="620" y="174" width="1" height="1" fill="#cc0000"/>
<rect x="622" y="181" width="1" height="1" fill="#cc0000"/>
<rect x="623" y="179" width="1" height="22" fill="#cc0000"/>
<rect x="622" y="181" width="1" height="1" fill="#cc0000"/>
<rect x="624" y="198" width="1" height="1" fill="#cc0000"/>
<rect x="625" y="179" width="3" height="1" fill="#008000"/>
<rect x="628" y="176" width="1" height="19" fill="#cc0000"/>
<rect x="627" y="179" width="1" height="1" fill="#cc0000"/>
<rect x="629" y="192" width="1" height="1" fill="#cc0000"/>
<rect x="631" y="179" width="1" height="6" fill="#008000"/>
<rect x="630" y="184" width="1" height="1" fill="#008000"/>
<rect x="632" y="179" width="1" height="1" fill="#008000"/>
<rect x="634" y="178" width="1" height="7" fill="#008000"/>
<rect x="633" y="179" width="1" height="1" fill="#008000"/>
<rect x="635" y="178" width="1" height="1" fill="#008000"/>
<rect x="636" y="179" width="1" height="9" fill="#cc0000"/>
<rect x="635" y="179" width="1" height="1" fill="#cc0000"/>
<rect x="637" y="187" width="1" height="1" fill="#cc0000"/>
<rect x="639" y="179" width="1" height="4" fill="#008000"/>
<rect x="638" y="182" width="1" height="1" fill="#008000"/>
<rect x="640" y="179" width="1" height="1" fill="#008000"/>
<rect x="640" y="178" width="3" height="1" fill="#008000"/>
<rect x="644" y="174" width="1" height="6" fill="#008000"/>
<rect x="643" y="178" width="1" height="1" fill="#008000"/>
<rect x="645" y="174" width="1" height="1" fill="#008000"/>
<rect x="647" y="173" width="1" height="10" fill="#008000"/>
<rect x="646" y="181" width="1" height="1" fill="#008000"/>
<rect x="648" y="174" width="1" height="1" fill="#008000"/>
<rect x="649" y="176" width="1" height="9" fill="#008000"/>
<rect x="648" y="183" width="1" height="1" fill="#008000"/>
<rect x="650" y="176" width="1" height="1" fill="#008000"/>
<rect x="652" y="176" width="1" height="19" fill="#cc0000"/>
<rect x="651" y="176" width="1" height="1" fill="#cc0000"/>
<rect x="653" y="192" width="1" height="1" fill="#cc0000"/>
<rect x="654" y="181" width="1" height="10" fill="#008000"/>
<rect x="653" y="189" width="1" height="1" fill="#008000"/>
<rect x="655" y="182" width="1" height="1" fill="#008000"/>
<rect x="657" y="173" width="1" height="17" fill="#008000"/>
<rect x="656" y="182" width="1" height="1" fill="#008000"/>
<rect x="658" y="174" width="1" height="1" fill="#008000"/>
<rect x="659" y="180" width="1" height="10" fill="#cc0000"/>
<rect x="658" y="181" width="1" height="1" fill="#cc0000"/>
<rect x="660" y="188" width="1" height="1" fill="#cc0000"/>
<rect x="662" y="178" width="1" height="12" fill="#008000"/>
<rect x="661" y="188" width="1" height="1" fill="#008000"/>
<rect x="663" y="179" width="1" height="1" fill="#008000"/>
<rect x="665" y="173" width="1" height="8" fill="#008000"/>
<rect x="664" y="179" width="1" height="1" fill="#008000"/>
<rect x="666" y="173" width="1" height="1" fill="#008000"/>
<rect x="667" y="168" width="1" height="11" fill="#cc0000"/>
<rect x="666" y="173" width="1" height="1" fill="#cc0000"/>
<rect x="668" y="177" width="1" height="1" fill="#cc0000"/>
<rect x="670" y="175" width="1" height="8" fill="#008000"/>
<rect x="669" y="177" width="1" height="1" fill="#008000"/>
<rect x="671" y="175" width="1" height="1" fill="#008000"/>
<rect x="672" y="171" width="1" height="5" fill="#008000"/>
<rect x="671" y="175" width="1" height="1" fill="#008000"/>
<rect x="673" y="171" width="1" height="1" fill="#008000"/>
<rect x="674" y="174" width="3" height="1" fill="#cc0000"/>
<rect x="678" y="169" width="1" height="6" fill="#008000"/>
<rect x="677" y="174" width="1" height="1" fill="#008000"/>
<rect x="679" y="169" width="1" height="1" fill="#008000"/>
<rect x="679" y="170" width="3" height="1" fill="#008000"/>
<rect x="681" y="169" width="3" height="1" fill="#008000"/>
<rect x="685" y="161" width="1" height="5" fill="#008000"/>
<rect x="684" y="165" width="1" height="1" fill="#008000"/>
<rect x="686" y="161" width="1" height="1" fill="#008000"/>
<rect x="687" y="163" width="3" height="1" fill="#008000"/>
<rect x="690" y="161" width="1" height="5" fill="#008000"/>
<rect x="689" y="163" width="1" height="1" fill="#008000"/>
<rect x="691" y="161" width="1" height="1" fill="#008000"/>
<rect x="693" y="159" width="1" height="16" fill="#cc0000"/>
<rect x="692" y="161" width="1" height="1" fill="#cc0000"/>
<rect x="694" y="173" width="1" height="1" fill="#cc0000"/>
<rect x="696" y="159" width="1" height="7" fill="#008000"/>
<rect x="695" y="165" width="1" height="1" fill="#008000"/>
<rect x="697" y="159" width="1" height="1" fill="#008000"/>
<rect x="698" y="163" width="1" height="5" fill="#cc0000"/>
<rect x="697" y="163" width="1" height="1" fill="#cc0000"/>
<rect x="699" y="167" width="1" height="1" fill="#cc0000"/>
<rect x="701" y="161" width="1" height="18" fill="#008000"/>
<rect x="700" y="167" width="1" height="1" fill="#008000"/>
<rect x="702" y="163" width="1" height="1" fill="#008000"/>
<rect x="703" y="165" width="1" height="10" fill="#cc0000"/>
<rect x="702" y="166" width="1" height="1" fill="#cc0000"/>
<rect x="704" y="173" width="1" height="1" fill="#cc0000"/>
<rect x="706" y="165" width="1" height="10" fill="#008000"/>
<rect x="705" y="173" width="1" height="1" fill="#008000"/>
<rect x="707" y="166" width="1" height="1" fill="#008000"/>
<rect x="708" y="164" width="1" height="7" fill="#008000"/>
<rect x="707" y="166" width="1" height="1" fill="#008000"/>
<rect x="709" y="164" width="1" height="1" fill="#008000"/>
<rect x="711" y="151" width="1" height="15" fill="#008000"/>
<rect x="710" y="164" width="1" height="1" fill="#008000"/>
<rect x="712" y="152" width="1" height="1" fill="#008000"/>
<rect x="714" y="139" width="1" height="14" fill="#008000"/>
<rect x="713" y="152" width="1" height="1" fill="#008000"/>
<rect x="715" y="140" width="1" height="1" fill="#008000"/>
<rect x="716" y="131" width="1" height="17" fill="#008000"/>
<rect x="715" y="140" width="1" height="1" fill="#008000"/>
<rect x="717" y="132" width="1" height="1" fill="#008000"/>
<rect x="719" y="126" width="1" height="13" fill="#008000"/>
<rect x="718" y="132" width="1" height="1" fill="#008000"/>
<rect x="720" y="127" width="1" height="1" fill="#008000"/>
<rect x="721" y="128" width="1" height="6" fill="#cc0000"/>
<rect x="720" y="128" width="1" height="1" fill="#cc0000"/>
<rect x="722" y="133" width="1" height="1" fill="#cc0000"/>
<rect x="724" y="128" width="1" height="6" fill="#008000"/>
<rect x="723" y="133" width="1" height="1" fill="#008000"/>
<rect x="725" y="128" width="1" height="1" fill="#008000"/>
<rect x="727" y="119" width="1" height="8" fill="#008000"/>
<rect x="726" y="125" width="1" height="1" fill="#008000"/>
<rect x="728" y="119" width="1" height="1" fill="#008000"/>
<rect x="729" y="117" width="1" height="12" fill="#008000"/>
<rect x="728" y="119" width="1" height="1" fill="#008000"/>
<rect x="730" y="118" width="1" height="1" fill="#008000"/>
<rect x="732" y="119" width="1" height="10" fill="#008000"/>
<rect x="731" y="127" width="1" height="1" fill="#008000"/>
<rect x="733" y="120" width="1" height="1" fill="#008000"/>
<rect x="734" y="111" width="1" height="10" fill="#008000"/>
<rect x="733" y="120" width="1" height="1" fill="#008000"/>
<rect x="735" y="112" width="1" height="1" fill="#008000"/>
<rect x="737" y="104" width="1" height="10" fill="#008000"/>
<rect x="736" y="112" width="1" height="1" fill="#008000"/>
<rect x="738" y="105" width="1" height="1" fill="#008000"/>
<rect x="740" y="105" width="1" height="8" fill="#cc0000"/>
<rect x="739" y="105" width="1" height="1" fill="#cc0000"/>
<rect x="741" y="112" width="1" height="1" fill="#cc0000"/>
<rect x="741" y="111" width="3" height="1" fill="#cc0000"/>
<rect x="745" y="99" width="1" height="10" fill="#008000"/>
<rect x="744" y="107" width="1" height="1" fill="#008000"/>
<rect x="746" y="100" width="1" height="1" fill="#008000"/>
<rect x="747" y="100" width="1" height="21" fill="#cc0000"/>
<rect x="746" y="100" width="1" height="1" fill="#cc0000"/>
<rect x="748" y="118" width="1" height="1" fill="#cc0000"/>
<rect x="750" y="109" width="1" height="7" fill="#cc0000"/>
<rect x="749" y="109" width="1" height="1" fill="#cc0000"/>
<rect x="751" y="115" width="1" height="1" fill="#cc0000"/>
<rect x="752" y="112" width="1" height="6" fill="#008000"/>
<rect x="751" y="115" width="1" height="1" fill="#008000"/>
<rect x="753" y="112" width="1" height="1" fill="#008000"/>
<rect x="754" y="112" width="3" height="1" fill="#008000"/>
<rect x="758" y="111" width="1" height="8" fill="#cc0000"/>
<rect x="757" y="112" width="1" height="1" fill="#cc0000"/>
<rect x="759" y="118" width="1" height="1" fill="#cc0000"/>
<rect x="760" y="107" width="1" height="13" fill="#008000"/>
<rect x="759" y="118" width="1" height="1" fill="#008000"/>
<rect x="761" y="108" width="1" height="1" fill="#008000"/>
<rect x="762" y="112" width="3" height="1" fill="#008000"/>
<rect x="765" y="112" width="1" height="6" fill="#cc0000"/>
<rect x="764" y="112" width="1" height="1" fill="#cc0000"/>
<rect x="766" y="117" width="1" height="1" fill="#cc0000"/>
<rect x="768" y="109" width="1" height="10" fill="#008000"/>
<rect x="767" y="117" width="1" height="1" fill="#008000"/>
<rect x="769" y="110" width="1" height="1" fill="#008000"/>
<rect x="771" y="99" width="1" height="12" fill="#008000"/>
<rect x="770" y="110" width="1" height="1" fill="#008000"/>
<rect x="772" y="100" width="1" height="1" fill="#008000"/>
<rect x="773" y="94" width="1" height="16" fill="#008000"/>
<rect x="772" y="100" width="1" height="1" fill="#008000"/>
<rect x="774" y="95" width="1" height="1" fill="#008000"/>
<rect x="776" y="92" width="1" height="14" fill="#008000"/>
<rect x="775" y="95" width="1" height="1" fill="#008000"/>
<rect x="777" y="93" width="1" height="1" fill="#008000"/>
<rect x="778" y="95" width="1" height="8" fill="#cc0000"/>
<rect x="777" y="95" width="1" height="1" fill="#cc0000"/>
<rect x="779" y="102" width="1" height="1" fill="#cc0000"/>
<rect x="781" y="97" width="1" height="8" fill="#cc0000"/>
<rect x="780" y="102" width="1" height="1" fill="#cc0000"/>
<rect x="782" y="104" width="1" height="1" fill="#cc0000"/>
<rect x="784" y="92" width="1" height="14" fill="#008000"/>
<rect x="783" y="104" width="1" height="1" fill="#008000"/>
<rect x="785" y="93" width="1" height="1" fill="#008000"/>
<rect x="786" y="95" width="1" height="16" fill="#cc0000"/>
<rect x="785" y="96" width="1" height="1" fill="#cc0000"/>
<rect x="787" y="109" width="1" height="1" fill="#cc0000"/>
<rect x="789" y="97" width="1" height="19" fill="#cc0000"/>
<rect x="788" y="109" width="1" height="1" fill="#cc0000"/>
<rect x="790" y="113" width="1" height="1" fill="#cc0000"/>
<rect x="791" y="107" width="1" height="9" fill="#cc0000"/>
<rect x="790" y="113" width="1" height="1" fill="#cc0000"/>
<rect x="792" y="115" width="1" height="1" fill="#cc0000"/>
<rect x="794" y="112" width="1" height="17" fill="#cc0000"/>
<rect x="793" y="115" width="1" height="1" fill="#cc0000"/>
<rect x="795" y="127" width="1" height="1" fill="#cc0000"/>
<rect x="796" y="117" width="1" height="9" fill="#008000"/>
<rect x="795" y="124" width="1" height="1" fill="#008000"/>
<rect x="797" y="117" width="1" height="1" fill="#008000"/>
<rect x="798" y="122" width="3" height="1" fill="#008000"/>
<rect x="802" y="119" width="1" height="5" fill="#008000"/>
<rect x="801" y="122" width="1" height="1" fill="#008000"/>
<rect x="803" y="119" width="1" height="1" fill="#008000"/>
<rect x="804" y="121" width="1" height="17" fill="#cc0000"/>
<rect x="803" y="122" width="1" height="1" fill="#cc0000"/>
<rect x="805" y="136" width="1" height="1" fill="#cc0000"/>
<rect x="807" y="122" width="1" height="5" fill="#cc0000"/>
<rect x="806" y="122" width="1" height="1" fill="#cc0000"/>
<rect x="808" y="126" width="1" height="1" fill="#cc0000"/>
<rect x="809" y="132" width="1" height="17" fill="#cc0000"/>
<rect x="808" y="133" width="1" height="1" fill="#cc0000"/>
<rect x="810" y="147" width="1" height="1" fill="#cc0000"/>
<rect x="812" y="141" width="1" height="4" fill="#008000"/>
<rect x="811" y="144" width="1" height="1" fill="#008000"/>
<rect x="813" y="141" width="1" height="1" fill="#008000"/>
<rect x="815" y="137" width="1" height="3" fill="#008000"/>
<rect x="814" y="139" width="1" height="1" fill="#008000"/>
<rect x="816" y="137" width="1" height="1" fill="#008000"/>
<rect x="817" y="137" width="1" height="12" fill="#cc0000"/>
<rect x="816" y="137" width="1" height="1" fill="#cc0000"/>
<rect x="818" y="147" width="1" height="1" fill="#cc0000"/>
<rect x="820" y="136" width="1" height="12" fill="#008000"/>
<rect x="819" y="147" width="1" height="1" fill="#008000"/>
<rect x="821" y="137" width="1" height="1" fill="#008000"/>
</g>
<polyline points="31.0,174.5 39.3,174.5 42.2,161.5 368.0,161.5 370.5,210.5 608.3,210.5 610.8,109.5 701.5,109.5 704.0,55.5 820.5,55.5" fill="none" stroke="#6c6ca6" stroke-width="1.2" stroke-linejoin="round"/>
<path d="M31.0,197.8C34.7,197.1 45.2,194.9 53.1,193.3C61.0,191.8 71.9,189.4 78.2,188.5C84.5,187.6 86.5,188.0 90.7,188.0C94.9,188.0 99.1,187.9 103.3,188.5C107.5,189.1 111.6,190.3 115.8,191.5C120.0,192.7 124.6,194.6 128.4,195.8C132.2,197.0 134.2,198.1 138.4,198.8C142.6,199.6 146.7,199.4 153.4,200.3C160.1,201.2 170.1,202.8 178.5,204.0C186.9,205.2 195.7,206.7 203.6,207.8C211.5,208.9 220.1,210.4 226.2,210.8C232.3,211.2 233.5,211.2 240.0,210.2C246.5,209.2 258.0,206.2 265.1,204.7C272.2,203.1 277.2,201.7 282.6,200.9C288.0,200.2 292.2,200.3 297.7,200.2C303.1,200.1 309.0,200.3 315.3,200.4C321.6,200.5 329.0,200.7 335.3,200.9C341.6,201.1 347.0,201.3 352.9,201.7C358.8,202.1 364.2,202.5 370.5,203.2C376.8,203.9 383.8,204.5 390.5,205.7C397.2,206.9 403.9,208.5 410.6,210.2C417.3,211.9 425.8,214.4 430.7,215.7C435.6,217.0 435.1,216.5 440.0,218.1C444.9,219.7 453.0,222.1 460.1,225.2C467.2,228.2 475.1,232.7 482.6,236.4C490.1,240.1 498.5,244.3 505.2,247.2C511.9,250.1 516.1,251.5 522.8,254.0C529.5,256.5 538.7,260.0 545.4,262.3C552.1,264.6 558.9,266.7 562.9,267.8C566.9,268.9 568.2,268.9 569.2,269.1C572.8,267.6 582.8,263.6 590.5,259.8C598.2,256.0 608.1,250.8 615.6,246.5C623.1,242.2 629.2,238.2 635.7,233.9C642.2,229.7 647.3,226.2 654.6,221.0C661.9,215.8 671.3,209.1 679.7,202.9C688.1,196.8 697.3,190.0 704.8,184.1C712.2,178.2 721.1,170.1 724.4,167.3C725.3,167.2 725.6,167.8 729.9,166.6C734.2,165.3 742.9,162.2 750.0,159.8C757.1,157.4 766.2,154.5 772.5,152.0C778.8,149.5 782.1,147.0 787.6,144.7C793.1,142.4 799.7,140.2 805.2,138.2C810.7,136.2 818.0,133.7 820.5,132.8" fill="none" stroke="#2a7ab4" stroke-width="1.2" stroke-linejoin="round"/>
<path d="M158.5,129.3C161.8,131.1 171.0,136.1 178.5,140.0C186.0,143.9 196.9,149.1 203.6,152.6C210.3,156.1 212.6,157.9 218.7,160.9C224.8,163.9 232.3,167.2 240.0,170.6C247.7,174.0 256.7,178.2 265.1,181.4C273.5,184.7 281.8,187.5 290.2,190.1C298.6,192.7 307.8,195.4 315.3,197.2C322.8,199.0 329.0,200.2 335.3,200.9C341.6,201.7 347.0,201.4 352.9,201.7C358.8,201.9 364.2,202.2 370.5,202.4C376.8,202.7 383.0,202.9 390.5,203.2C398.0,203.4 407.4,203.7 415.6,203.9C423.9,204.1 432.6,204.3 440.0,204.6C447.4,204.9 452.9,204.7 460.0,205.6C467.1,206.5 473.4,208.3 482.6,210.1C491.8,211.9 504.8,214.5 515.3,216.6C525.8,218.7 536.4,220.9 545.4,222.6C554.4,224.3 565.2,226.2 569.2,226.9C572.8,226.7 582.8,226.5 590.5,225.9C598.2,225.3 607.2,224.1 615.6,223.2C624.0,222.3 634.2,220.9 640.7,220.4C647.2,219.9 648.1,220.3 654.6,220.0C661.1,219.7 671.3,219.2 679.7,218.7C688.1,218.2 696.4,217.9 704.8,217.2C713.2,216.4 721.5,215.5 729.9,214.2C738.3,212.9 746.6,210.8 755.0,209.2C763.4,207.6 771.6,206.0 780.0,204.7C788.4,203.4 798.5,202.1 805.2,201.2C812.0,200.3 818.0,199.7 820.5,199.4" fill="none" stroke="#882248" stroke-width="1.15" stroke-linejoin="round"/>
<g shape-rendering="crispEdges">
<rect x="36" y="350" width="15" height="185" fill="#a6aed2"/>
<rect x="697" y="350" width="15" height="185" fill="#a6aed2"/>
</g>
<polyline points="31.0,462.4 33.5,450.4 36.0,448.6" fill="none" stroke="#b8960a" stroke-width="2" stroke-linejoin="round"/>
<polyline points="51.0,449.0 240.0,450.3 247.5,450.8 295.2,450.8 296.4,452.8 298.2,464.1 368.0,464.8 369.2,466.6 370.7,474.9 468.3,475.3 469.8,479.0 471.3,484.8 608.0,484.6 609.0,487.3 610.8,508.1 662.0,508.0 665.0,506.6 697.0,506.6" fill="none" stroke="#b8960a" stroke-width="2" stroke-linejoin="round"/>
<polyline points="712.0,477.5 820.6,478.3" fill="none" stroke="#b8960a" stroke-width="2" stroke-linejoin="round"/>
<polyline points="31.0,445.4 33.5,376.4 36.0,375.2" fill="none" stroke="#902a68" stroke-width="2" stroke-linejoin="round"/>
<polyline points="51.0,383.4 240.0,384.3 247.5,385.1 295.2,385.1 296.2,388.8 298.2,410.2 368.0,410.7 369.0,415.2 370.7,436.0 468.3,435.6 469.8,438.9 471.6,446.2 608.0,445.9 609.0,448.9 610.8,470.8 697.0,470.3" fill="none" stroke="#902a68" stroke-width="2" stroke-linejoin="round"/>
<polyline points="712.0,412.6 820.6,413.6" fill="none" stroke="#902a68" stroke-width="2" stroke-linejoin="round"/>
<text transform="translate(48.3,443.4) rotate(-90)" text-anchor="middle" font-size="13.9px" textLength="141" lengthAdjust="spacingAndGlyphs" fill="#000">NEW FINANCIAL YEAR</text>
<text transform="translate(709.3,443.4) rotate(-90)" text-anchor="middle" font-size="13.9px" textLength="141" lengthAdjust="spacingAndGlyphs" fill="#000">NEW FINANCIAL YEAR</text>
<g shape-rendering="crispEdges">
<rect x="31" y="3" width="800" height="14" fill="#e4e4e4" fill-opacity="0.93"/>
<rect x="31" y="336" width="800" height="14" fill="#e4e4e4" fill-opacity="0.93"/>
<rect x="42" y="3" width="1" height="14" fill="#d2d2d2"/>
<rect x="42" y="336" width="1" height="14" fill="#d2d2d2"/>
<rect x="96" y="3" width="1" height="14" fill="#d2d2d2"/>
<rect x="96" y="336" width="1" height="14" fill="#d2d2d2"/>
<rect x="155" y="3" width="1" height="14" fill="#d2d2d2"/>
<rect x="155" y="336" width="1" height="14" fill="#d2d2d2"/>
<rect x="210" y="3" width="1" height="14" fill="#d2d2d2"/>
<rect x="210" y="336" width="1" height="14" fill="#d2d2d2"/>
<rect x="267" y="3" width="1" height="14" fill="#d2d2d2"/>
<rect x="267" y="336" width="1" height="14" fill="#d2d2d2"/>
<rect x="326" y="3" width="1" height="14" fill="#d2d2d2"/>
<rect x="326" y="336" width="1" height="14" fill="#d2d2d2"/>
<rect x="378" y="3" width="1" height="14" fill="#d2d2d2"/>
<rect x="378" y="336" width="1" height="14" fill="#d2d2d2"/>
<rect x="432" y="3" width="1" height="14" fill="#d2d2d2"/>
<rect x="432" y="336" width="1" height="14" fill="#d2d2d2"/>
<rect x="489" y="3" width="1" height="14" fill="#d2d2d2"/>
<rect x="489" y="336" width="1" height="14" fill="#d2d2d2"/>
<rect x="546" y="3" width="1" height="14" fill="#d2d2d2"/>
<rect x="546" y="336" width="1" height="14" fill="#d2d2d2"/>
<rect x="600" y="3" width="1" height="14" fill="#d2d2d2"/>
<rect x="600" y="336" width="1" height="14" fill="#d2d2d2"/>
<rect x="659" y="3" width="1" height="14" fill="#d2d2d2"/>
<rect x="659" y="336" width="1" height="14" fill="#d2d2d2"/>
<rect x="714" y="3" width="1" height="14" fill="#d2d2d2"/>
<rect x="714" y="336" width="1" height="14" fill="#d2d2d2"/>
<rect x="771" y="3" width="1" height="14" fill="#d2d2d2"/>
<rect x="771" y="336" width="1" height="14" fill="#d2d2d2"/>
<rect x="30" y="2" width="802" height="1" fill="#888888"/>
<rect x="30" y="332" width="802" height="1" fill="#888888"/>
<rect x="30" y="2" width="1" height="331" fill="#888888"/>
<rect x="831" y="2" width="1" height="331" fill="#888888"/>
<rect x="30" y="335" width="802" height="1" fill="#888888"/>
<rect x="30" y="535" width="802" height="1" fill="#888888"/>
<rect x="30" y="335" width="1" height="201" fill="#888888"/>
<rect x="831" y="335" width="1" height="201" fill="#888888"/>
<rect x="827" y="332" width="4" height="1" fill="#000"/>
<rect x="827" y="298" width="4" height="1" fill="#000"/>
<rect x="827" y="265" width="4" height="1" fill="#000"/>
<rect x="827" y="231" width="4" height="1" fill="#000"/>
<rect x="827" y="198" width="4" height="1" fill="#000"/>
<rect x="827" y="164" width="4" height="1" fill="#000"/>
<rect x="827" y="131" width="4" height="1" fill="#000"/>
<rect x="827" y="97" width="4" height="1" fill="#000"/>
<rect x="827" y="64" width="4" height="1" fill="#000"/>
<rect x="827" y="30" width="4" height="1" fill="#000"/>
<rect x="31" y="332" width="4" height="1" fill="#000"/>
<rect x="31" y="313" width="4" height="1" fill="#000"/>
<rect x="31" y="295" width="4" height="1" fill="#000"/>
<rect x="31" y="276" width="4" height="1" fill="#000"/>
<rect x="827" y="535" width="4" height="1" fill="#000"/>
<rect x="827" y="504" width="4" height="1" fill="#000"/>
<rect x="827" y="473" width="4" height="1" fill="#000"/>
<rect x="827" y="442" width="4" height="1" fill="#000"/>
<rect x="827" y="411" width="4" height="1" fill="#000"/>
<rect x="827" y="380" width="4" height="1" fill="#000"/>
<rect x="827" y="349" width="4" height="1" fill="#000"/>
<rect x="42" y="535" width="1" height="3" fill="#000"/>
<rect x="96" y="535" width="1" height="3" fill="#000"/>
<rect x="155" y="535" width="1" height="3" fill="#000"/>
<rect x="210" y="535" width="1" height="3" fill="#000"/>
<rect x="267" y="535" width="1" height="3" fill="#000"/>
<rect x="326" y="535" width="1" height="3" fill="#000"/>
<rect x="378" y="535" width="1" height="3" fill="#000"/>
<rect x="432" y="535" width="1" height="3" fill="#000"/>
<rect x="489" y="535" width="1" height="3" fill="#000"/>
<rect x="546" y="535" width="1" height="3" fill="#000"/>
<rect x="600" y="535" width="1" height="3" fill="#000"/>
<rect x="659" y="535" width="1" height="3" fill="#000"/>
<rect x="714" y="535" width="1" height="3" fill="#000"/>
<rect x="771" y="535" width="1" height="3" fill="#000"/>
<rect x="35" y="6" width="8" height="8" fill="#000"/>
<rect x="36" y="7" width="6" height="6" fill="#008000"/>
<rect x="235" y="6" width="8" height="8" fill="#000"/>
<rect x="236" y="7" width="6" height="6" fill="#99ff99"/>
<rect x="330" y="6" width="8" height="8" fill="#000"/>
<rect x="331" y="7" width="6" height="6" fill="#0066aa"/>
<rect x="446" y="6" width="8" height="8" fill="#000"/>
<rect x="447" y="7" width="6" height="6" fill="#800030"/>
<rect x="568" y="6" width="8" height="8" fill="#000"/>
<rect x="569" y="7" width="6" height="6" fill="#7777aa"/>
<rect x="35" y="339" width="8" height="8" fill="#000"/>
<rect x="36" y="340" width="6" height="6" fill="#b8960a"/>
<rect x="127" y="339" width="8" height="8" fill="#000"/>
<rect x="128" y="340" width="6" height="6" fill="#993377"/>
</g>
<text x="46.9" y="14.0" stroke="#000" stroke-width="0.18">Op:2.15, Hi:2.17, Lo:2.11, Cl:2.17</text>
<text x="247.3" y="14.0" stroke="#000" stroke-width="0.18">Vol: 0.009M</text>
<text x="341.6" y="14.0" stroke="#000" stroke-width="0.18">SMA (60): 2.189</text>
<text x="457.8" y="14.0" stroke="#000" stroke-width="0.18">SMA (200): 1.791</text>
<text x="579.6" y="14.0" stroke="#000" stroke-width="0.18">Consensus Target: 0 - 2.65</text>
<text x="47.0" y="347.2" stroke="#000" stroke-width="0.18">EPS: 19.14</text>
<text x="138.8" y="347.2" stroke="#000" stroke-width="0.18">EPS2: 29.56</text>
<text x="42.1" y="38.9" font-size="19.3px" fill="#555555">THL</text>
<text x="692.2" y="38.7" font-size="19.05px" fill="#ac0c10">FNArena.com</text>
<text x="834.2" y="336.2" stroke="#000" stroke-width="0.18">1.0</text>
<text x="834.2" y="302.2" stroke="#000" stroke-width="0.18">1.2</text>
<text x="834.2" y="269.2" stroke="#000" stroke-width="0.18">1.4</text>
<text x="834.2" y="235.2" stroke="#000" stroke-width="0.18">1.6</text>
<text x="834.2" y="202.2" stroke="#000" stroke-width="0.18">1.8</text>
<text x="834.2" y="168.2" stroke="#000" stroke-width="0.18">2.0</text>
<text x="834.2" y="135.2" stroke="#000" stroke-width="0.18">2.2</text>
<text x="834.2" y="101.2" stroke="#000" stroke-width="0.18">2.4</text>
<text x="834.2" y="68.2" stroke="#000" stroke-width="0.18">2.6</text>
<text x="834.2" y="34.2" stroke="#000" stroke-width="0.18">2.8</text>
<text x="834.2" y="539.2" stroke="#000" stroke-width="0.18">10</text>
<text x="834.2" y="508.2" stroke="#000" stroke-width="0.18">15</text>
<text x="834.2" y="477.2" stroke="#000" stroke-width="0.18">20</text>
<text x="834.2" y="446.2" stroke="#000" stroke-width="0.18">25</text>
<text x="834.2" y="415.2" stroke="#000" stroke-width="0.18">30</text>
<text x="834.2" y="384.2" stroke="#000" stroke-width="0.18">35</text>
<text x="834.2" y="353.2" stroke="#000" stroke-width="0.18">40</text>
<text x="28.8" y="336.2" text-anchor="end" stroke="#000" stroke-width="0.18">0.0M</text>
<text x="28.8" y="317.2" text-anchor="end" stroke="#000" stroke-width="0.18">0.5M</text>
<text x="28.8" y="299.2" text-anchor="end" stroke="#000" stroke-width="0.18">1.0M</text>
<text x="28.8" y="280.2" text-anchor="end" stroke="#000" stroke-width="0.18">1.5M</text>
<text x="42.6" y="549.0" text-anchor="middle" font-weight="bold">Sep 24</text>
<text x="96.6" y="549.0" text-anchor="middle" stroke="#000" stroke-width="0.18">Oct</text>
<text x="155.6" y="549.0" text-anchor="middle" stroke="#000" stroke-width="0.18">Nov</text>
<text x="210.6" y="549.0" text-anchor="middle" stroke="#000" stroke-width="0.18">Dec</text>
<text x="267.6" y="549.0" text-anchor="middle" font-weight="bold">Jan 25</text>
<text x="326.6" y="549.0" text-anchor="middle" stroke="#000" stroke-width="0.18">Feb</text>
<text x="378.6" y="549.0" text-anchor="middle" stroke="#000" stroke-width="0.18">Mar</text>
<text x="432.6" y="549.0" text-anchor="middle" stroke="#000" stroke-width="0.18">Apr</text>
<text x="489.6" y="549.0" text-anchor="middle" stroke="#000" stroke-width="0.18">May</text>
<text x="546.6" y="549.0" text-anchor="middle" stroke="#000" stroke-width="0.18">Jun</text>
<text x="600.6" y="549.0" text-anchor="middle" stroke="#000" stroke-width="0.18">Jul</text>
<text x="659.6" y="549.0" text-anchor="middle" stroke="#000" stroke-width="0.18">Aug</text>
<text x="714.6" y="549.0" text-anchor="middle" stroke="#000" stroke-width="0.18">Sep</text>
<text x="771.6" y="549.0" text-anchor="middle" stroke="#000" stroke-width="0.18">Oct</text>
</svg>
</body></html>
